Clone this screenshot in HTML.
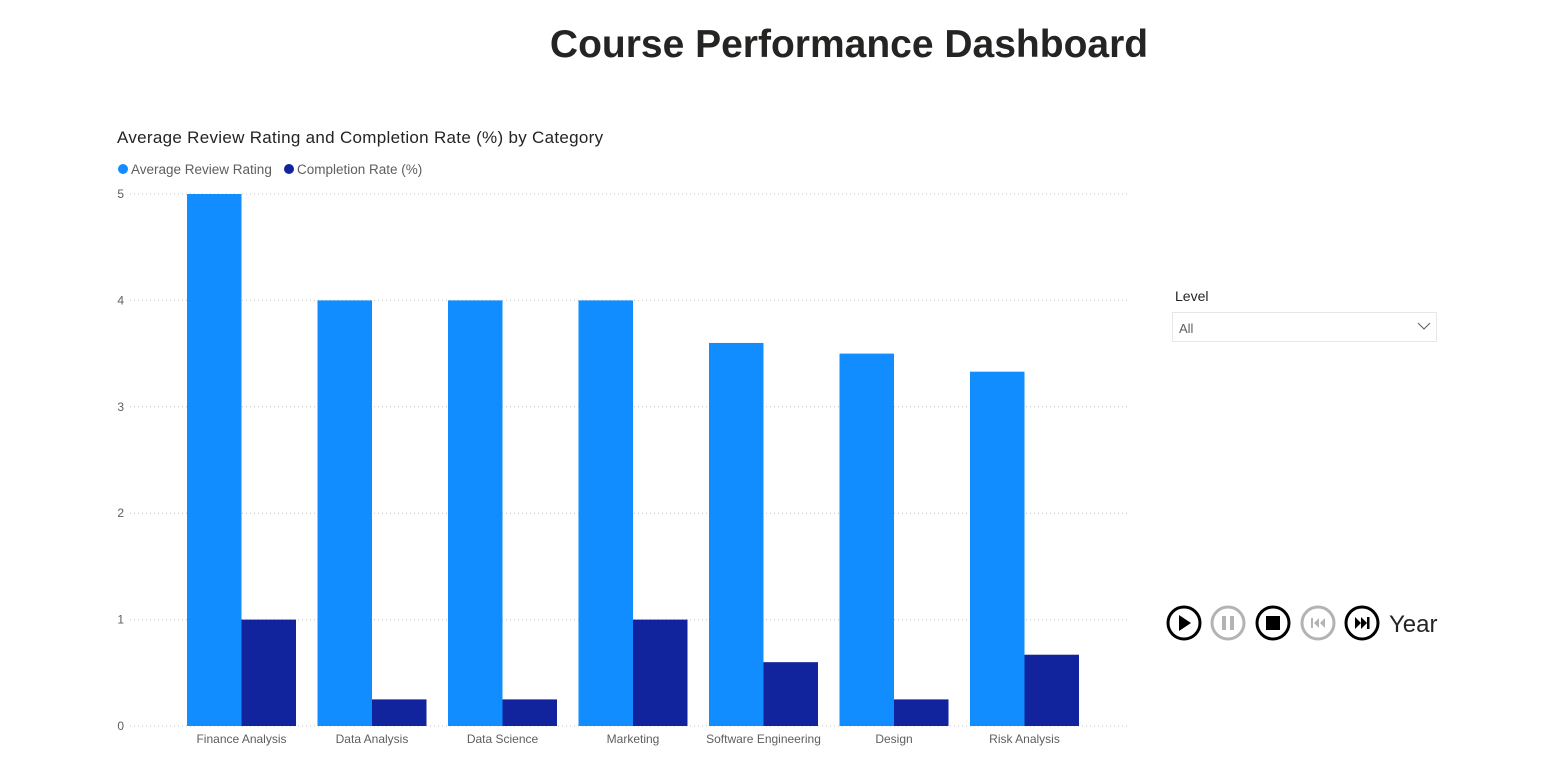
<!DOCTYPE html>
<html><head><meta charset="utf-8"><style>
body{margin:0;width:1556px;height:777px;background:#fff;overflow:hidden;font-family:"Liberation Sans",sans-serif}
svg{position:absolute;left:0;top:0}
</style></head><body>
<svg width="1556" height="777">
<text x="849" y="57" text-anchor="middle" font-size="39" font-weight="bold" fill="#252423">Course Performance Dashboard</text>
<text x="117" y="143" font-size="17" letter-spacing="0.3" fill="#252423">Average Review Rating and Completion Rate (%) by Category</text>
<g>
<circle cx="123" cy="169" r="5" fill="#118DFF"/>
<text x="131" y="174" font-size="13.5" fill="#605E5C">Average Review Rating</text>
<circle cx="289" cy="169" r="5" fill="#12239E"/>
<text x="297" y="174" font-size="13.5" fill="#605E5C">Completion Rate (%)</text>
</g>
<g id="chart"></g>
<g>
<text x="1175" y="301" font-size="14" fill="#252423">Level</text>
<rect x="1172.5" y="312.5" width="264" height="29" fill="#fff" stroke="#E6E6E6"/>
<text x="1179" y="333" font-size="13" fill="#605E5C">All</text>
<polyline points="1418,323 1424,329 1430,323" fill="none" stroke="#605E5C" stroke-width="1"/>
</g>
<g>
<g><circle cx="1184" cy="623" r="16" fill="none" stroke="#000" stroke-width="3"/><polygon points="1179,615 1179,631 1191,623" fill="#000"/></g>
<g><circle cx="1228" cy="623" r="16" fill="none" stroke="#B3B3B3" stroke-width="3"/><rect x="1222" y="616" width="4" height="14" fill="#B3B3B3"/><rect x="1230" y="616" width="4" height="14" fill="#B3B3B3"/></g>
<g><circle cx="1273" cy="623" r="16" fill="none" stroke="#000" stroke-width="3"/><rect x="1266" y="616" width="14" height="14" fill="#000"/></g>
<g><circle cx="1318" cy="623" r="16" fill="none" stroke="#B3B3B3" stroke-width="3"/><rect x="1311" y="618" width="2" height="10" fill="#B3B3B3"/><polygon points="1319,618 1319,628 1314,623" fill="#B3B3B3"/><polygon points="1325,618 1325,628 1320,623" fill="#B3B3B3"/></g>
<g><circle cx="1362" cy="623" r="16" fill="none" stroke="#000" stroke-width="3"/><polygon points="1355,617 1355,629 1361,623" fill="#000"/><polygon points="1361,617 1361,629 1367,623" fill="#000"/><rect x="1367" y="617" width="2.5" height="12" fill="#000"/></g>
<text x="1389" y="632" font-size="24" fill="#252423">Year</text>
</g>
</svg>
<script>
const categories=["Finance Analysis","Data Analysis","Data Science","Marketing","Software Engineering","Design","Risk Analysis"];
const ratingValues=[5,4,4,4,3.6,3.5,3.33];
const completionValues=[1,0.25,0.25,1,0.6,0.25,0.67];
const yTicks=[0,1,2,3,4,5];
const NS="http://www.w3.org/2000/svg";
const g=document.getElementById('chart');
const y0=726,pxPerUnit=106.4,bandStart=176.25,band=130.5,pad=10.75;
const bw=(band-2*pad)/2;
function y(v){return y0-v*pxPerUnit;}
function bx(i){return bandStart+i*band+pad;}
function mk(t,a){const e=document.createElementNS(NS,t);for(const k in a)e.setAttribute(k,a[k]);g.appendChild(e);return e;}
yTicks.forEach(t=>{
 const l=mk('line',{x1:130,x2:1130,y1:y(t),y2:y(t),stroke:'#C8C6C4','stroke-dasharray':'1 3','stroke-width':1});
 
 
 const tx=mk('text',{x:124,y:y(t)+4,'text-anchor':'end','font-size':12,fill:'#605E5C'});
 tx.textContent=t;
 
 
});
categories.forEach((c,i)=>{
 const r=mk('rect',{x:bx(i),y:y(ratingValues[i]),width:bw,height:ratingValues[i]*pxPerUnit,fill:'#118DFF'});
 
 
 const d=mk('rect',{x:bx(i)+bw,y:y(completionValues[i]),width:bw,height:completionValues[i]*pxPerUnit,fill:'#12239E'});
 
 
 const t=mk('text',{x:bx(i)+bw,y:743,'text-anchor':'middle','font-size':12,fill:'#605E5C'});
 t.textContent=c;
 
 
});
</script>
</body></html>
